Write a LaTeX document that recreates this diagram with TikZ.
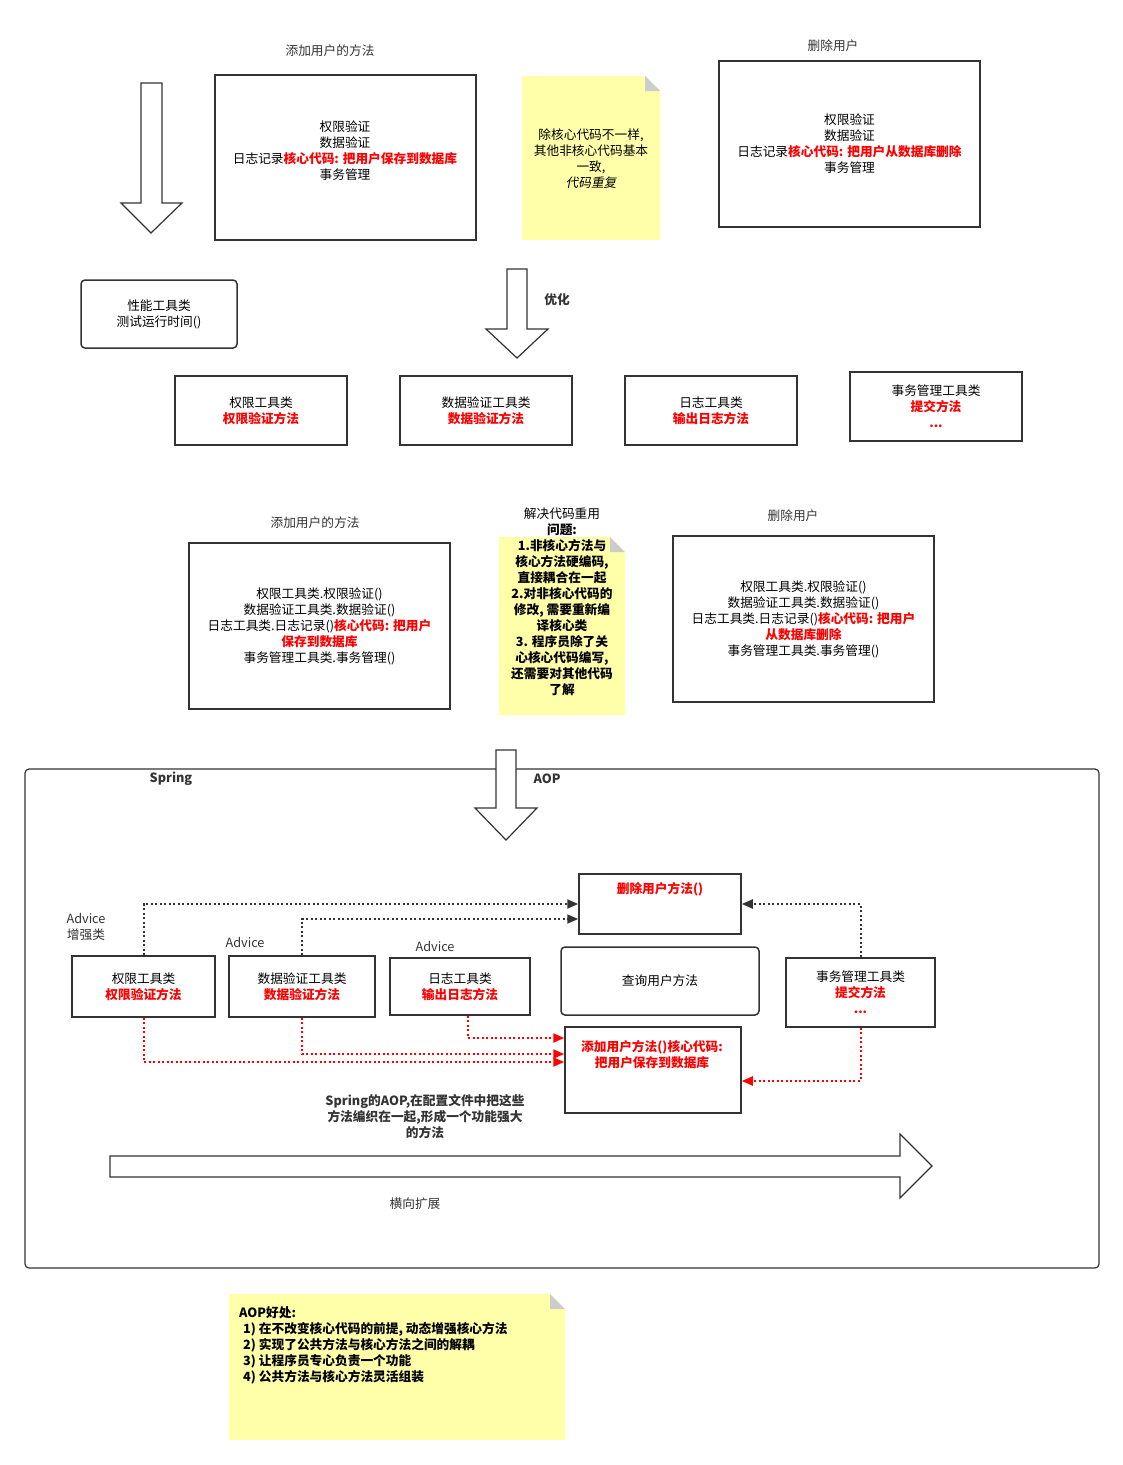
\documentclass[tikz,border=0pt]{standalone}
\usepackage{fontspec}
\setmainfont{Noto Sans CJK SC}[AutoFakeSlant=0.2]
\usetikzlibrary{arrows.meta}
\definecolor{edge}{RGB}{51,51,51}
\definecolor{notefill}{RGB}{255,255,170}
\definecolor{foldgray}{RGB}{204,204,204}
\newcommand\core[1]{{\color{red}\bfseries #1}}
\begin{document}
\begin{tikzpicture}[x=1pt, y=-1pt,
  every node/.style={font=\fontsize{12.7}{16}\selectfont, align=center, inner sep=0pt},
  box/.style={draw=edge, line width=1.5pt},
  rbox/.style={box, rounded corners=4pt},
  caption/.style={text=edge},
  blockarrow/.style={draw=edge, line width=1.2pt, fill=white},
  link/.style={draw=edge, line width=2pt, dash pattern=on 2pt off 2.5pt,
    -{Triangle[length=11pt,width=9pt]}},
  redlink/.style={link, draw=red, -{Triangle[length=11pt,width=9pt,fill=red]}}]
\useasboundingbox (0,0) rectangle (1123,1465);
% notes
\fill[notefill] (522,76) -- (645,76) -- (660,91) -- (660,240) -- (522,240) -- cycle;
\fill[foldgray] (645,76) -- (660,91) -- (645,91) -- cycle;
\fill[notefill] (499,537) -- (610,537) -- (625,552) -- (625,715) -- (499,715) -- cycle;
\fill[foldgray] (610,537) -- (625,552) -- (610,552) -- cycle;
\fill[notefill] (229,1294) -- (550,1294) -- (565,1309) -- (565,1440) -- (229,1440) -- cycle;
\fill[foldgray] (550,1294) -- (565,1309) -- (550,1309) -- cycle;

% before
\node[caption] (addtitle) at (330,51) {添加用户的方法};
\node[box, minimum width=261, minimum height=165] (addold) at (345.5,157.5) {};
\node (addoldtext) at (345,151) {权限验证\\数据验证\\日志记录\core{核心代码: 把用户保存到数据库}\\事务管理};
\node (repeat) at (591,159) {除核心代码不一样,\\其他非核心代码基本\\一致,\\\textit{代码重复}};
\node[caption] (deltitle) at (833,46) {删除用户};
\node[box, minimum width=261, minimum height=166] (delold) at (849.5,144)
  {权限验证\\数据验证\\日志记录\core{核心代码: 把用户从数据库删除}\\事务管理};
\draw[blockarrow] (141,83) -- (162,83) -- (162,203) -- (182,203) -- (151,233) -- (121,203) -- (141,203) -- cycle;
\node[rbox, minimum width=156, minimum height=68] (perf) at (159,314) {性能工具类\\测试运行时间()};

% optimize
\draw[blockarrow] (507,269) -- (527,269) -- (527,329) -- (548,329) -- (517,358) -- (486,329) -- (507,329) -- cycle;
\node[font=\fontsize{12.7}{16}\selectfont\bfseries, caption] (opt) at (557,300) {优化};
\node[box, minimum width=172, minimum height=69] (auth) at (261,410.5) {权限工具类\\\core{权限验证方法}};
\node[box, minimum width=172, minimum height=69] (check) at (486,410.5) {数据验证工具类\\\core{数据验证方法}};
\node[box, minimum width=172, minimum height=69] (log) at (711,410.5) {日志工具类\\\core{输出日志方法}};
\node[box, minimum width=172, minimum height=69] (tx) at (936,406.5) {事务管理工具类\\\core{提交方法}\\\core{...}};

% after
\node[caption] (addtitle2) at (315,523) {添加用户的方法};
\node[box, minimum width=261, minimum height=166] (addnew) at (319.5,626)
  {权限工具类.权限验证()\\数据验证工具类.数据验证()\\日志工具类.日志记录()\core{核心代码: 把用户}\\\core{保存到数据库}\\事务管理工具类.事务管理()};
\node (reuse) at (562,602) {解决代码重用\\\bfseries 问题:\\\bfseries 1.非核心方法与\\\bfseries 核心方法硬编码,\\\bfseries 直接耦合在一起\\\bfseries 2.对非核心代码的\\\bfseries 修改, 需要重新编\\\bfseries 译核心类\\\bfseries 3. 程序员除了关\\\bfseries 心核心代码编写,\\\bfseries 还需要对其他代码\\\bfseries 了解};
\node[caption] (deltitle2) at (793,516) {删除用户};
\node[box, minimum width=261, minimum height=166] (delnew) at (803.5,619)
  {权限工具类.权限验证()\\数据验证工具类.数据验证()\\日志工具类.日志记录()\core{核心代码: 把用户}\\\core{从数据库删除}\\事务管理工具类.事务管理()};

% spring aop
\draw[edge, line width=1.2pt, rounded corners=4pt] (25,769) rectangle (1099,1268);
\draw[blockarrow] (496,750) -- (516,750) -- (516,808) -- (537,808) -- (506,840) -- (475,808) -- (496,808) -- cycle;
\node[font=\fontsize{12.7}{16}\selectfont\bfseries, caption] (spring) at (171,779) {Spring};
\node[font=\fontsize{12.7}{16}\selectfont\bfseries, caption] (aop) at (547,779) {AOP};
\node[box, minimum width=143, minimum height=61] (adv1) at (143.5,986.5) {权限工具类\\\core{权限验证方法}};
\node[box, minimum width=146, minimum height=61] (adv2) at (302,986.5) {数据验证工具类\\\core{数据验证方法}};
\node[box, minimum width=140, minimum height=57] (adv3) at (460,986.5) {日志工具类\\\core{输出日志方法}};
\node[caption] (advlabel1) at (86,927) {Advice\\增强类};
\node[caption] (advlabel2) at (245,943) {Advice};
\node[caption] (advlabel3) at (435,947) {Advice};
\node[rbox, minimum width=198, minimum height=68] (query) at (660,981) {查询用户方法};
\node[box, minimum width=149, minimum height=69] (adv4) at (860.5,992.5) {事务管理工具类\\\core{提交方法}\\\core{...}};
\node[box, minimum width=162, minimum height=60] (delm) at (660,904) {};
\node (delmtext) at (660,889) {\core{删除用户方法()}};
\node[box, minimum width=176, minimum height=86] (addm) at (653,1070) {};
\node (addmtext) at (652,1055) {\core{添加用户方法()核心代码:}\\\core{把用户保存到数据库}};
\draw[link] (adv1.north) |- (delm.west);
\draw[link] (adv2.north) |- ([yshift=-15pt]delm.west);
\draw[link] (adv4.north) |- (delm.east);
\draw[redlink] (adv1.south) |- ([yshift=8pt]addm.west);
\draw[redlink] (adv2.south) |- ([yshift=16pt]addm.west);
\draw[redlink] ([xshift=8pt]adv3.south) |- ([yshift=32pt]addm.west);
\draw[redlink] (adv4.south) |- ([yshift=-11pt]addm.east);
\node[font=\fontsize{12.7}{16}\selectfont\bfseries, caption] (weave) at (425,1117)
  {Spring的AOP,在配置文件中把这些\\方法编织在一起,形成一个功能强大\\的方法};
\draw[blockarrow] (110,1156) -- (900,1156) -- (900,1134) -- (932,1166) -- (900,1198) -- (900,1177) -- (110,1177) -- cycle;
\node[caption] (extend) at (415,1204) {横向扩展};

% benefits
\node[align=left, anchor=west, font=\fontsize{12.7}{16}\selectfont\bfseries] (benefit) at (239,1345)
  {AOP好处:\\\hspace*{4pt}1) 在不改变核心代码的前提, 动态增强核心方法\\\hspace*{4pt}2) 实现了公共方法与核心方法之间的解耦\\\hspace*{4pt}3) 让程序员专心负责一个功能\\\hspace*{4pt}4) 公共方法与核心方法灵活组装};
\end{tikzpicture}
\end{document}
